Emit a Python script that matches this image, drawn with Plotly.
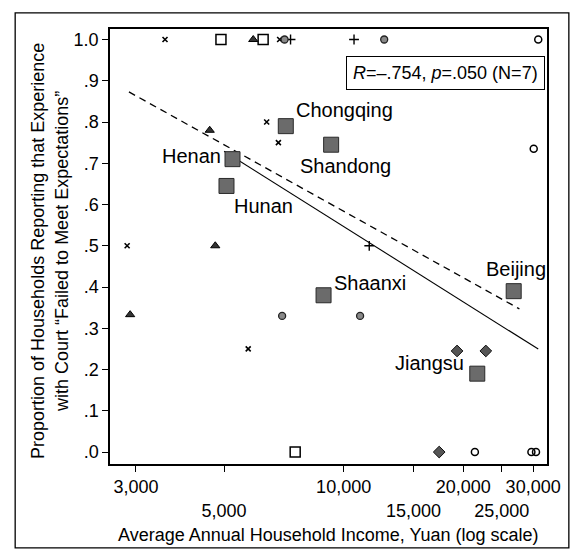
import numpy as np
import plotly.graph_objects as go

# ---- data ----
prov_names = ["Henan", "Hunan", "Chongqing", "Shaanxi", "Shandong", "Jiangsu", "Beijing"]
prov_income = [5250, 5070, 7150, 8900, 9300, 21700, 26800]
prov_prop = [0.71, 0.645, 0.79, 0.38, 0.745, 0.19, 0.39]

x_inc = [3550, 2850, 6400, 6850, 5750, 6900]
x_prop = [1.0, 0.5, 0.80, 0.75, 0.25, 1.0]
tri_inc = [5920, 2900, 4750, 4600]
tri_prop = [1.0, 0.333, 0.5, 0.78]
osq_inc = [4910, 6270, 7550]
osq_prop = [1.0, 1.0, 0.0]
plus_inc = [10620, 11600, 7350]
plus_prop = [1.0, 0.5, 1.0]
dot_inc = [12650, 7000, 11000, 7100]
dot_prop = [1.0, 0.33, 0.33, 1.0]
dia_inc = [19300, 22800, 17400]
dia_prop = [0.245, 0.245, 0.0]
ocir_inc = [30900, 30100, 21400, 29700, 30500]
ocir_prop = [1.0, 0.735, 0.0, 0.0, 0.0]

dash_inc = [2880, 27700]
dash_prop = [0.873, 0.347]
fit_range = [5000, 30900]

x_tickvals = [3000, 5000, 10000, 15000, 20000, 25000, 30000]
x_ticktext = ["3,000", "<br>5,000", "10,000", "<br>15,000", "20,000", "<br>25,000", "30,000"]
y_tickvals = [round(0.1 * i, 1) for i in range(11)]
y_ticktext = [".0", ".1", ".2", ".3", ".4", ".5", ".6", ".7", ".8", ".9", "1.0"]

stat_text = "<i>R</i>=\u2013.754, <i>p</i>=.050 (N=7)"
x_title = "Average Annual Household Income, Yuan (log scale)"
y_title = "Proportion of Households Reporting that Experience<br>with Court \u201cFailed to Meet Expectations\u201d"

# label offsets (xanchor, xshift, yshift)
label_pos = {
    "Henan": ("right", -10, 3),
    "Hunan": ("left", 6, -20),
    "Chongqing": ("left", 8, 16),
    "Shaanxi": ("left", 8, 12),
    "Shandong": ("center", 14, -21),
    "Jiangsu": ("right", -11, 11),
    "Beijing": ("center", 2, 22),
}

FONT = "Liberation Sans, Arial, sans-serif"
fig = go.Figure()

# regression lines
slope, intercept = np.polyfit(np.log10(prov_income), prov_prop, 1)
fx = np.array(fit_range, dtype=float)
fy = intercept + slope * np.log10(fx)
fig.add_trace(go.Scatter(x=dash_inc, y=dash_prop, mode="lines",
                         line=dict(color="black", width=1.3, dash="7px,5px"), hoverinfo="skip"))
fig.add_trace(go.Scatter(x=fx, y=fy, mode="lines",
                         line=dict(color="black", width=1.1), hoverinfo="skip"))

def small(xs, ys, symbol, size, color, lw=1, lc="black"):
    fig.add_trace(go.Scatter(x=xs, y=ys, mode="markers",
                             marker=dict(symbol=symbol, size=size, color=color,
                                         line=dict(width=lw, color=lc))))

small(x_inc, x_prop, "x-thin", 5, "black", 1.6)
small(tri_inc, tri_prop, "triangle-up", 8, "#333", 1)
small(osq_inc, osq_prop, "square-open", 10, "black", 1.5)
small(plus_inc, plus_prop, "cross-thin", 7, "black", 1.4)
small(dot_inc, dot_prop, "circle", 7, "#888", 1.3, "#222")
small(dia_inc, dia_prop, "diamond", 9, "#555", 1, "#111")
small(ocir_inc, ocir_prop, "circle-open", 7, "black", 1.5)

fig.add_trace(go.Scatter(x=prov_income, y=prov_prop, mode="markers",
                         marker=dict(symbol="square", size=15, color="#6b6b6b",
                                     line=dict(width=1, color="#2a2a2a"))))

annotations = []
for n, xi, yi in zip(prov_names, prov_income, prov_prop):
    xa, xs, ys = label_pos[n]
    annotations.append(dict(x=np.log10(xi), y=yi, xref="x", yref="y", text=n,
                            showarrow=False, xanchor=xa, yanchor="middle",
                            xshift=xs, yshift=ys, font=dict(size=20, color="black", family=FONT)))

annotations.append(dict(x=0.995, y=0.938, xref="paper", yref="paper", text=stat_text,
                        showarrow=False, xanchor="right", yanchor="top",
                        bgcolor="white", bordercolor="black", borderwidth=1, borderpad=6,
                        font=dict(size=18, color="black", family=FONT)))
annotations.append(dict(x=0.5, y=-0.163, xref="paper", yref="paper", text=x_title,
                        showarrow=False, xanchor="center", yanchor="middle",
                        font=dict(size=18, color="black", family=FONT)))
annotations.append(dict(x=-0.137, y=0.49, xref="paper", yref="paper", text=y_title,
                        showarrow=False, xanchor="center", yanchor="middle", textangle=-90,
                        font=dict(size=18, color="black", family=FONT)))

fig.update_layout(
    width=574, height=552,
    margin=dict(l=110, r=27, t=29, b=88),
    paper_bgcolor="white", plot_bgcolor="white",
    showlegend=False,
    font=dict(family=FONT, size=18, color="black"),
    annotations=annotations,
    shapes=[dict(type="rect", xref="paper", yref="paper",
                 x0=-0.217, x1=1.05, y0=-0.193, y1=1.037,
                 line=dict(color="black", width=1.3))],
)
fig.update_xaxes(type="log", range=[3.4117, 4.512], tickmode="array",
                 tickvals=x_tickvals, ticktext=x_ticktext, tickangle=0,
                 ticks="outside", ticklen=6, tickwidth=1.3, tickcolor="black",
                 showline=True, linecolor="black", linewidth=1.5, mirror=True,
                 showgrid=False, zeroline=False, tickfont=dict(size=18))
fig.update_yaxes(range=[-0.029, 1.0255], tickmode="array",
                 tickvals=y_tickvals, ticktext=y_ticktext,
                 ticks="outside", ticklen=6, tickwidth=1.3, tickcolor="black",
                 showline=True, linecolor="black", linewidth=1.5, mirror=True,
                 showgrid=False, zeroline=False, tickfont=dict(size=18))

fig.write_html("out.html")
